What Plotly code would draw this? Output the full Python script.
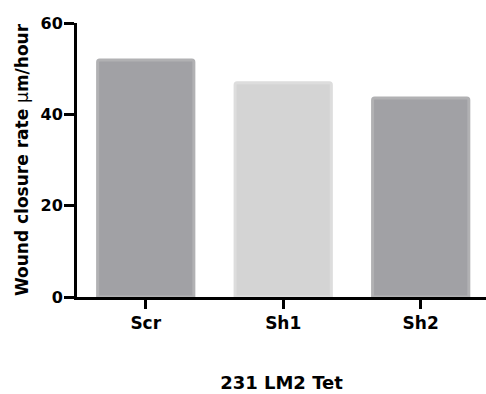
import plotly.graph_objects as go

categories = ["Scr", "Sh1", "Sh2"]
values = [51.9, 46.9, 43.6]
fill_colors = ["#a1a1a5", "#d4d4d4", "#a1a1a5"]
line_colors = ["#b1b1b3", "#dddddd", "#b1b1b3"]
y_ticks = [0, 20, 40, 60]

fig = go.Figure()
fig.add_trace(go.Bar(
    x=categories, y=values, width=0.7,
    marker=dict(color=fill_colors, line=dict(color=line_colors, width=3), cornerradius=2),
))

font_family = "DejaVu Sans, sans-serif"
fig.update_layout(
    width=486, height=394,
    margin=dict(l=77, r=0, t=23, b=97),
    plot_bgcolor="white", paper_bgcolor="white",
    showlegend=False,
    font=dict(family=font_family, color="black", size=17, weight="bold"),
    xaxis=dict(
        range=[-0.5, 2.475],
        showline=True, linecolor="black", linewidth=3,
        ticks="outside", ticklen=9, tickwidth=3, tickcolor="black",
        tickfont=dict(size=17, family=font_family, weight="bold"),
        title=dict(text="231 LM2 Tet", font=dict(size=18, family=font_family, weight="bold"), standoff=44),
        showgrid=False, zeroline=False,
    ),
    yaxis=dict(
        range=[0, 60], tickvals=y_ticks,
        showline=True, linecolor="black", linewidth=3,
        ticks="outside", ticklen=10, tickwidth=3, tickcolor="black",
        ticklabelstandoff=-2,
        tickfont=dict(size=16, family=font_family, weight="bold"),
        title=dict(text="Wound closure rate <span style='font-weight:normal'>μ</span>m/hour",
                   font=dict(size=17, family=font_family, weight="bold"), standoff=8),
        showgrid=False, zeroline=False,
    ),
)

fig.write_html("out.html")
